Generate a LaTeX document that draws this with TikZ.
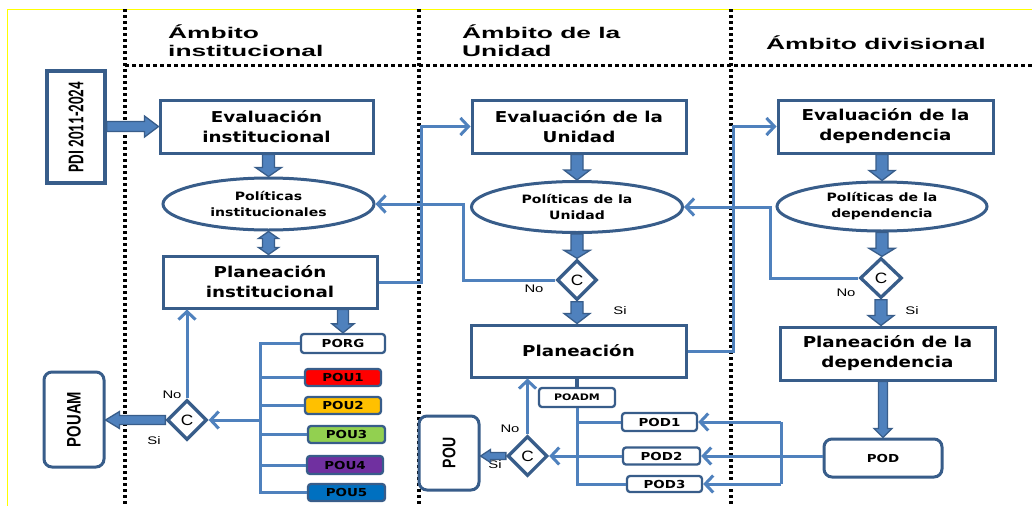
\documentclass[tikz,border=0pt]{standalone}
\usepackage{fontspec}
\usetikzlibrary{shapes.geometric,arrows.meta,calc}
\newfontfamily\boxf[FakeStretch=1.22]{DejaVu Sans}
\newfontfamily\headf[FakeStretch=1.7]{Liberation Sans}
\newfontfamily\labf[FakeStretch=1.35]{Liberation Sans}
\newfontfamily\cf[FakeStretch=1.15]{Liberation Sans}
\newfontfamily\arialf{Liberation Sans}
\newfontfamily\pdif{Carlito}
\definecolor{bdr}{RGB}{56,93,138}
\definecolor{arfill}{RGB}{79,129,189}
\definecolor{lnkc}{RGB}{79,129,189}
\definecolor{cred}{RGB}{255,0,0}
\definecolor{corange}{RGB}{255,192,0}
\definecolor{cgreen}{RGB}{146,208,80}
\definecolor{cpurple}{RGB}{112,48,160}
\definecolor{cblue}{RGB}{0,112,192}
\definecolor{frameyel}{RGB}{255,255,0}
\tikzset{
 mainbox/.style={draw=bdr, line width=3pt, fill=white, inner sep=0pt, font=\boxf\bfseries\fontsize{15}{20}\selectfont, align=center},
 polell/.style={ellipse, draw=bdr, line width=3pt, fill=white, inner sep=0pt, font=\boxf\bfseries\fontsize{11.5}{16}\selectfont, align=center},
 smallbox/.style={draw=bdr, line width=2.3pt, rounded corners=3pt, inner sep=0pt, font=\boxf\bfseries\fontsize{11}{13}\selectfont},
 decis/.style={diamond, draw=bdr, line width=3.3pt, fill=white, inner sep=0pt, minimum width=40pt, minimum height=40pt, font=\cf\fontsize{15}{15}\selectfont},
 outbox/.style={draw=bdr, line width=3pt, rounded corners=8pt, fill=white, inner sep=0pt},
 lnk/.style={draw=lnkc, line width=3pt},
 lnkar/.style={lnk, -{Straight Barb[length=8pt,width=17pt]}},
 lab/.style={font=\labf\fontsize{11}{11}\selectfont, inner sep=0pt},
 head/.style={font=\headf\bfseries\fontsize{15.5}{18}\selectfont, align=left, inner sep=0pt},
 vsep/.style={draw=black, line width=3.5pt, dash pattern=on 3pt off 3pt},
 hsep/.style={draw=black, line width=3pt, dash pattern=on 4pt off 3pt},
 bigar/.style={fill=arfill, draw=bdr, line width=1.3pt, line join=miter},
}
% block arrows: start, end, shaft half width, head half width, head length
\newcommand{\dnar}[5]{\filldraw[bigar] let \p1=(#1), \p2=(#2) in (\x1-#3,\y1) -- (\x1-#3,\y2+#5) -- (\x1-#4,\y2+#5) -- (\x1,\y2) -- (\x1+#4,\y2+#5) -- (\x1+#3,\y2+#5) -- (\x1+#3,\y1) -- cycle;}
\newcommand{\rtar}[5]{\filldraw[bigar] let \p1=(#1), \p2=(#2) in (\x1,\y1+#3) -- (\x2-#5,\y1+#3) -- (\x2-#5,\y1+#4) -- (\x2,\y1) -- (\x2-#5,\y1-#4) -- (\x2-#5,\y1-#3) -- (\x1,\y1-#3) -- cycle;}
\newcommand{\ltar}[5]{\filldraw[bigar] let \p1=(#1), \p2=(#2) in (\x1,\y1+#3) -- (\x2+#5,\y1+#3) -- (\x2+#5,\y1+#4) -- (\x2,\y1) -- (\x2+#5,\y1-#4) -- (\x2+#5,\y1-#3) -- (\x1,\y1-#3) -- cycle;}
\newcommand{\dbar}[5]{\filldraw[bigar] let \p1=(#1), \p2=(#2) in (\x1,\y1) -- (\x1+#4,\y1-#5) -- (\x1+#3,\y1-#5) -- (\x1+#3,\y2+#5) -- (\x1+#4,\y2+#5) -- (\x1,\y2) -- (\x1-#4,\y2+#5) -- (\x1-#3,\y2+#5) -- (\x1-#3,\y1-#5) -- (\x1-#4,\y1-#5) -- cycle;}
\begin{document}
\begin{tikzpicture}[x=1pt,y=-1pt]
\useasboundingbox (0,0) rectangle (1032,506);
\fill[white] (0,0) rectangle (1032,506);
\draw[frameyel, line width=0.8pt] (7,506) -- (7,9) -- (1032,9);
% separators
\draw[vsep] (125,9) -- (125,506);
\draw[vsep] (419,9) -- (419,506);
\draw[vsep] (731,9) -- (731,506);
\draw[hsep] (125,65) -- (1032,65);
% headers
\node[head, anchor=west] (hI) at (168,41) {Ámbito\\institucional};
\node[head, anchor=west] (hU) at (462,41) {Ámbito de la\\Unidad};
\node[head, anchor=west] (hD) at (766,43) {Ámbito divisional};
% junction coordinates
\coordinate (j1) at (421,0);
\coordinate (j2) at (463,0);
\coordinate (j3) at (733,0);
\coordinate (j4) at (770,0);
\coordinate (j5) at (781,0);
\coordinate (bxI) at (260,420);
% nodes: institucional
\node[mainbox, line width=3.3pt, minimum width=58pt, minimum height=112pt] (pdi) at (76,127) {\rotatebox{90}{\scalebox{1}[1.5]{\pdif\bfseries\fontsize{15}{15}\selectfont PDI 2011-2024}}};
\node[mainbox, minimum width=213pt, minimum height=53pt] (evI) at (266.5,126.5) {Evaluación\\institucional};
\node[polell, minimum width=211pt, minimum height=52pt] (polI) at (268.5,204) {Políticas\\institucionales};
\node[mainbox, minimum width=214pt, minimum height=52pt] (plI) at (270,282) {Planeación\\institucional};
\node[smallbox, fill=white, minimum width=84pt, minimum height=19pt] (porg) at (343,343.5) {PORG};
\node[smallbox, fill=cred, minimum width=76pt, minimum height=17pt] (pou1) at (343,377.5) {POU1};
\node[smallbox, fill=corange, minimum width=76pt, minimum height=17pt] (pou2) at (343,405.5) {POU2};
\node[smallbox, fill=cgreen, minimum width=77pt, minimum height=17pt] (pou3) at (346.5,434.5) {POU3};
\node[smallbox, fill=cpurple, minimum width=76pt, minimum height=18pt] (pou4) at (345,465) {POU4};
\node[smallbox, fill=cblue, minimum width=77pt, minimum height=17pt] (pou5) at (346.5,492.5) {POU5};
\node[decis] (cI) at (187,420) {C};
\node[outbox, minimum width=60pt, minimum height=95pt] (pouam) at (74,419.5) {\rotatebox{90}{\scalebox{1}[1.32]{\arialf\bfseries\fontsize{14.8}{15}\selectfont POUAM}}};
% nodes: unidad
\node[mainbox, minimum width=214pt, minimum height=53pt] (evU) at (579,126.5) {Evaluación de la\\Unidad};
\node[polell, minimum width=211pt, minimum height=51pt] (polU) at (577,207) {Políticas de la\\Unidad};
\node[decis] (cU) at (577,280) {C};
\node[mainbox, minimum width=215pt, minimum height=52pt] (plU) at (578.5,351) {Planeación};
\node[smallbox, fill=white, minimum width=76pt, minimum height=19pt, font=\boxf\bfseries\fontsize{9}{11}\selectfont] (poadm) at (577,397.5) {POADM};
\node[smallbox, fill=white, minimum width=75pt, minimum height=18pt] (pod1) at (659.5,422) {POD1};
\node[smallbox, fill=white, minimum width=77pt, minimum height=17pt] (pod2) at (661.5,456) {POD2};
\node[smallbox, fill=white, minimum width=75pt, minimum height=16pt] (pod3) at (664.5,484) {POD3};
\node[decis] (cU2) at (527.5,456) {C};
\node[outbox, minimum width=60pt, minimum height=74pt] (pou) at (449,453) {\rotatebox{90}{\scalebox{1}[1.3]{\arialf\bfseries\fontsize{14}{14}\selectfont POU}}};
% nodes: divisional
\node[mainbox, minimum width=215pt, minimum height=53pt] (evD) at (885.5,126.5) {Evaluación de la\\dependencia};
\node[polell, minimum width=210pt, minimum height=49pt] (polD) at (882,206.5) {Políticas de la\\dependencia};
\node[decis, minimum width=42pt] (cD) at (881,278) {C};
\node[mainbox, minimum width=215pt, minimum height=53pt] (plD) at (887.5,353.5) {Planeación de la\\dependencia};
\node[outbox, minimum width=118pt, minimum height=38pt, font=\boxf\bfseries\fontsize{11}{13}\selectfont] (pod) at (883,458) {POD};
% labels
\node[lab] (noI) at (172,395) {No};
\node[lab] (siI) at (154,441) {Si};
\node[lab] (noU) at (534,289) {No};
\node[lab] (siU) at (620,311) {Si};
\node[lab] (noU2) at (510,429) {No};
\node[lab] (siU2) at (495,465) {Si};
\node[lab] (noD) at (846,293) {No};
\node[lab] (siD) at (912,311) {Si};
% thin connectors
\draw[lnkar] (plI.east) -| (j1 |- evU.west) -- (evU.west);
\draw[lnkar] (cU.west) -| (j2 |- polI.east) -- (polI.east);
\draw[lnkar] (plU.east) -| (j3 |- evD.west) -- (evD.west);
\draw[lnkar] (cD.west) -| (j4 |- polU.east) -- (polU.east);
\draw[lnk] (porg.west) -- (porg.west -| bxI) -- (pou5.west -| bxI) -- (pou5.west);
\foreach \n in {pou1,pou2,pou3,pou4} \draw[lnk] (\n.west) -- (\n.west -| bxI);
\draw[lnkar] (bxI) -- (cI.east);
\draw[lnkar] (cI.north) -- (cI.north |- plI.south);
\draw[draw=bdr, line width=4pt] (poadm.north |- plU.south) -- (poadm.north);
\draw[lnk] (poadm.south) -- (poadm.south |- pod3.west) -- (pod3.west);
\draw[lnk] (poadm.south |- pod1.west) -- (pod1.west);
\draw[lnkar] (pod2.west) -- (cU2.east);
\draw[lnkar] (cU2.north) -- (cU2.north |- plU.south);
\draw[lnkar] (pod.west |- pod2.east) -- (pod2.east);
\draw[lnk] (j5 |- pod1.east) -- (j5 |- pod3.east);
\draw[lnkar] (j5 |- pod1.east) -- (pod1.east);
\draw[lnkar] (j5 |- pod3.east) -- (pod3.east);
% block arrows
\rtar{pdi.east |- evI.west}{evI.west}{5pt}{10.5pt}{14pt}
\dnar{polI.north |- evI.south}{polI.north}{6pt}{13pt}{9pt}
\dbar{polI.south}{polI.south |- plI.north}{6pt}{10pt}{7pt}
\dnar{porg.north |- plI.south}{porg.north}{5.5pt}{11pt}{9pt}
\ltar{cI.west}{pouam.east |- cI.west}{4.5pt}{8.5pt}{14pt}
\dnar{polU.north |- evU.south}{polU.north}{6pt}{13pt}{10pt}
\dnar{polU.south}{polU.south |- cU.north}{6pt}{13pt}{8pt}
\dnar{cU.south}{cU.south |- plU.north}{6pt}{13pt}{10pt}
\ltar{cU2.west}{pou.east |- cU2.west}{3.5pt}{6.5pt}{10pt}
\dnar{polD.north |- evD.south}{polD.north}{6pt}{13pt}{10pt}
\dnar{polD.south}{polD.south |- cD.north}{6pt}{13pt}{8pt}
\dnar{cD.south}{cD.south |- plD.north}{6pt}{13pt}{10pt}
\dnar{pod.north |- plD.south}{pod.north}{4.5pt}{9pt}{9pt}
\end{tikzpicture}
\end{document}
